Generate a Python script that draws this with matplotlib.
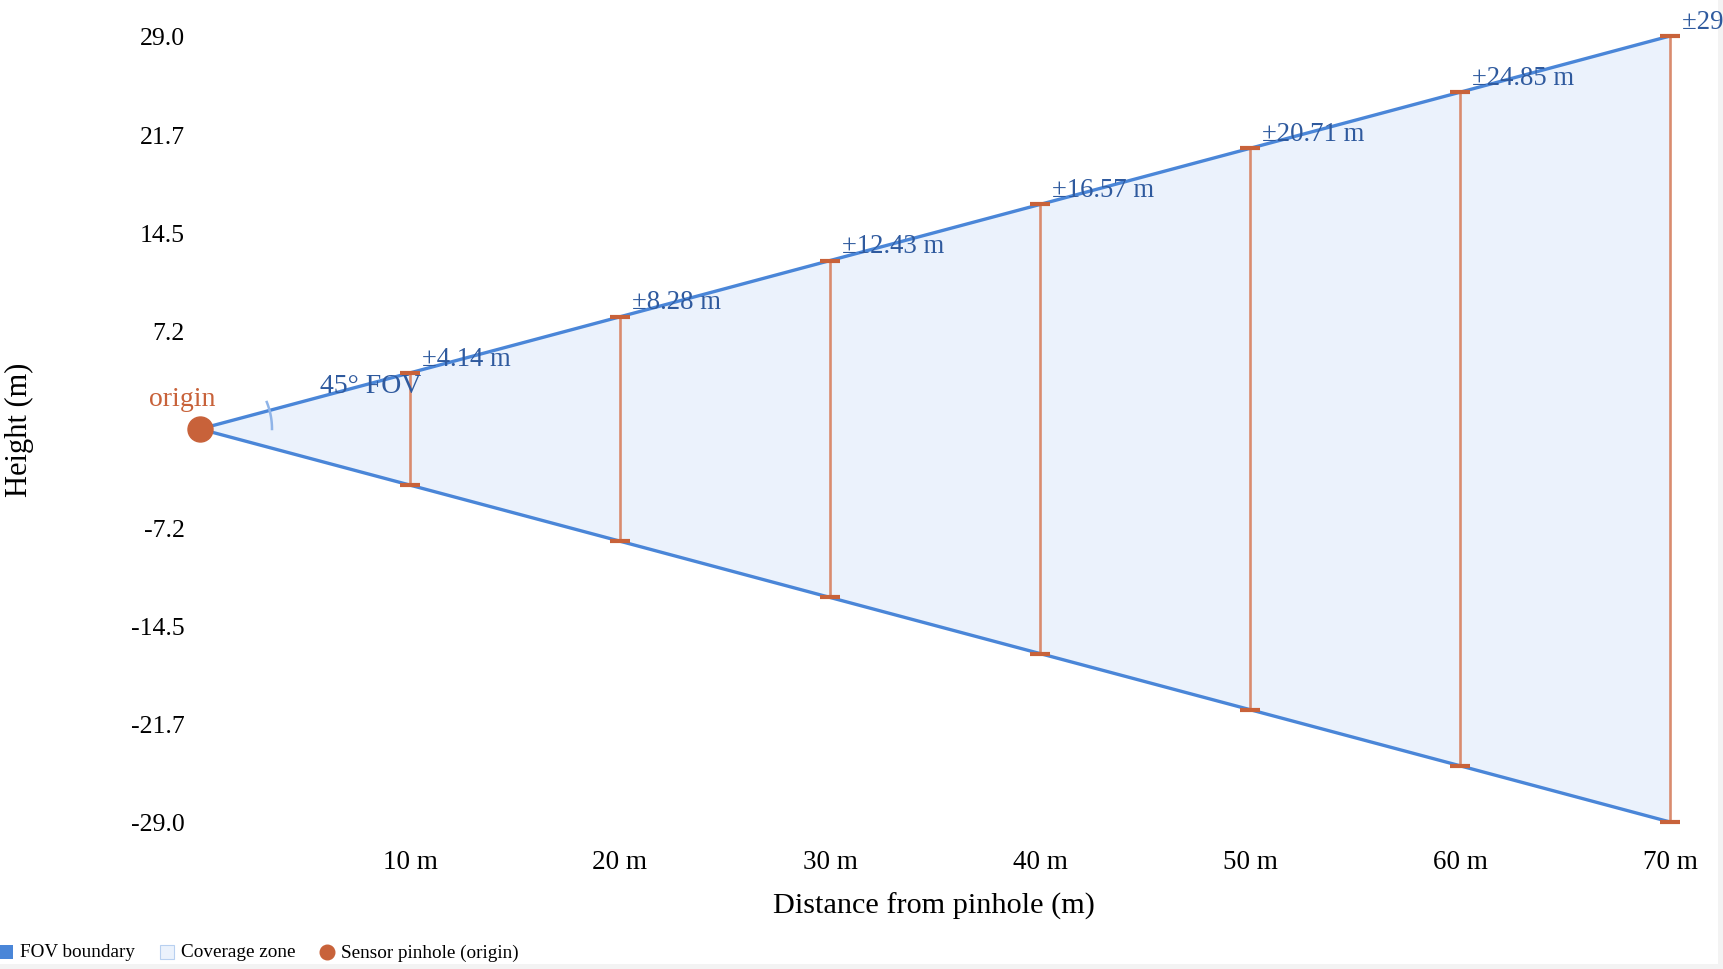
import matplotlib.pyplot as plt
import numpy as np
from matplotlib.patches import Rectangle
from matplotlib.lines import Line2D

plt.rcParams['font.family'] = ['Liberation Serif', 'DejaVu Serif']

# values
distances = [10, 20, 30, 40, 50, 60, 70]
half_width = [4.14, 8.28, 12.43, 16.57, 20.71, 24.85, 29.00]
x_tick_labels = ['10 m', '20 m', '30 m', '40 m', '50 m', '60 m', '70 m']
y_ticks = [29.0, 21.75, 14.5, 7.25, -7.25, -14.5, -21.75, -29.0]
y_tick_labels = ['29.0', '21.7', '14.5', '7.2', '-7.2', '-14.5', '-21.7', '-29.0']
fov_deg = 45

line_col = '#4a86d8'
fill_col = '#ebf2fc'
bar_col = '#d98b6e'
cap_col = '#c8623a'
txt_blue = '#2f5a9e'

W, H = 1724, 970
fig = plt.figure(figsize=(W / 100, H / 100), dpi=100)
fig.patch.set_facecolor('#f3f3f3')
fig.add_artist(Rectangle((0, 5 / H), 1718 / W, 1 - 5 / H, transform=fig.transFigure,
                         facecolor='white', edgecolor='none', zorder=-10))

ax = fig.add_axes([200 / W, 1 - 823 / H, 1470 / W, 786 / H])
ax.set_facecolor('none')
ax.set_xlim(0, 70)
ax.set_ylim(-29, 29)
for s in ax.spines.values():
    s.set_visible(False)

xs = [0] + distances
top = [0] + half_width
bot = [-v for v in top]
ax.fill_between(xs, bot, top, color=fill_col, zorder=1, lw=0, clip_on=False)
ax.plot(xs, top, color=line_col, lw=2.4, zorder=3, solid_capstyle='round', clip_on=False)
ax.plot(xs, bot, color=line_col, lw=2.4, zorder=3, solid_capstyle='round', clip_on=False)

for d, h in zip(distances, half_width):
    ax.plot([d, d], [-h, h], color=bar_col, lw=1.9, zorder=2, clip_on=False)
    ax.plot([d, d], [-h, h], ls='none', marker='_', ms=14, mew=3, color=cap_col,
            zorder=4, clip_on=False)
    ax.annotate(f'±{h:.2f} m', (d, h), xytext=(9, 6), textcoords='offset points',
                ha='left', va='baseline', fontsize=19.3, color=txt_blue,
                annotation_clip=False, zorder=5)

# origin
ax.plot([0], [0], 'o', ms=18, color=cap_col, zorder=6, clip_on=False)
ax.annotate('origin', (0, 0), xytext=(-13, 22), textcoords='offset points',
            ha='center', va='center', fontsize=20, color=cap_col, annotation_clip=False)

# small angle arc, circular in screen space
sx = 1470 / 70
sy = 786 / 58
r_px = 72
t = np.radians(np.linspace(0, 22, 30))
ax.plot(r_px * np.cos(t) / sx, r_px * np.sin(t) / sy, color='#8fb4e8', lw=1.8, zorder=4)
ax.text(5.7, 3.2, f'{fov_deg}° FOV', fontsize=20, color=txt_blue, ha='left', va='center',
        zorder=5)

ax.set_xticks(distances)
ax.set_xticklabels(x_tick_labels, fontsize=19.5)
ax.set_yticks(y_ticks)
ax.set_yticklabels(y_tick_labels, fontsize=18.5)
ax.tick_params(axis='both', length=0)
ax.tick_params(axis='x', pad=19.5)
ax.tick_params(axis='y', pad=11)

fig.text(934 / W, 1 - 906 / H, 'Distance from pinhole (m)', ha='center', va='center',
         fontsize=21.8)
fig.text(19 / W, 1 - 430 / H, 'Height (m)', ha='center', va='center', rotation=90,
         fontsize=22)

# legend along the bottom edge
ly = 1 - 953 / H
fig.add_artist(Rectangle((-3 / W, ly - 7 / H), 16 / W, 14 / H, transform=fig.transFigure,
                         facecolor=line_col, edgecolor='none'))
fig.text(20 / W, ly, 'FOV boundary', ha='left', va='center', fontsize=13.8)
fig.add_artist(Rectangle((160 / W, ly - 7 / H), 14 / W, 14 / H, transform=fig.transFigure,
                         facecolor=fill_col, edgecolor='#b8d0f0', lw=0.8))
fig.text(181 / W, ly, 'Coverage zone', ha='left', va='center', fontsize=13.8)
fig.add_artist(Line2D([327 / W], [ly], transform=fig.transFigure, marker='o', ms=10.5,
                      color=cap_col, ls='none'))
fig.text(341 / W, ly, 'Sensor pinhole (origin)', ha='left', va='center', fontsize=13.8)

fig.savefig('out.png', dpi=100)
